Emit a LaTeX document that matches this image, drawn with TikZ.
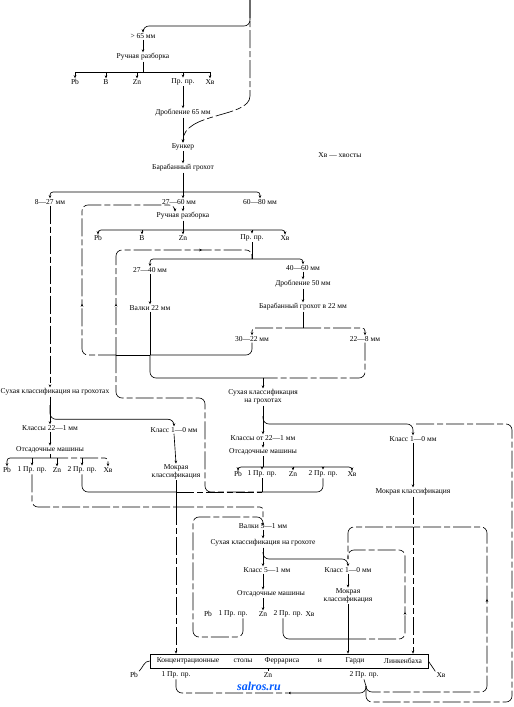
\documentclass[tikz,border=0pt]{standalone}
\usepackage{fontspec}
\setmainfont{Liberation Serif}
\usetikzlibrary{arrows.meta,decorations.markings}

\begin{document}
\begin{tikzpicture}[
    x=1pt, y=-1pt,
    every node/.style={align=center, font=\fontsize{7.5}{8}\selectfont, inner sep=1pt},
    % linee di flusso
    ln/.style={line width=0.65pt},
    flow/.style={ln, -{Stealth[length=3pt,width=2.6pt]}},
    % linea tratteggiata lunga (come nella scansione)
    brk/.style={dash pattern=on 18pt off 3pt on 6pt off 3pt},
    rc/.style={rounded corners=6pt},
    rcs/.style={rounded corners=3pt},
    % freccia a meta linea
    midarr/.style={postaction={decorate, decoration={markings,
        mark=at position #1 with {\arrow{Stealth[length=3pt,width=2.6pt]}}}}},
    % tavolo di concentrazione
    tbl/.style={draw, line width=0.65pt, minimum width=278pt, minimum height=14pt},
    wm/.style={font=\bfseries\itshape\fontsize{12}{12}\selectfont, text=blue!65!cyan}
]
\useasboundingbox (0,0) rectangle (514,707);

% --- PRIMA CERNITA ---
\coordinate (top) at (250,0);
\node (n65) at (143,36) {> 65 мм};
\node (rr1) at (143,57) {Ручная разборка};
\node (a1Pb) at (75,82) {Pb};
\node (a1B) at (106,82) {В};
\node (a1Zn) at (137,82) {Zn};
\node (a1Pp) at (183,82) {Пр. пр.};
\node (a1Hv) at (210,82) {Хв};
\node (dr65) at (183,113) {Дробление 65 мм};
\node (bunk) at (183,147) {Бункер};
\node (bg1) at (183,168) {Барабанный грохот};
\node (legend) at (340,155) {Хв — хвосты};

\draw[flow, rc] (top) -- (250,26) -- (143,26) -- (n65.north);
\draw[flow, brk] (top) -- (250,96) .. controls (250,118) and (183,112) .. (bunk.north);
\draw[flow] (n65.south) -- (rr1.north);
\coordinate (bus1) at (143,72);
\draw[ln] (rr1.south) -- (bus1);
\draw[ln] (a1Pb.north |- bus1) -- (a1Hv.north |- bus1);
\foreach \n in {a1Pb,a1B,a1Zn,a1Pp,a1Hv}
    \draw[flow] (\n.north |- bus1) -- (\n.north);
\draw[flow] (a1Pp.south) -- (dr65.north);
\draw[flow] (dr65.south) -- (bunk.north);
\draw[flow] (bunk.south) -- (bg1.north);

% --- SECONDA CERNITA ---
\node (s827) at (50,202) {8—27 мм};
\node (s2760) at (179,202) {27—60 мм};
\node (s6080) at (260,202) {60—80 мм};
\node (rr2) at (183,216) {Ручная разборка};
\node (b2Pb) at (98,238) {Pb};
\node (b2B) at (142,238) {В};
\node (b2Zn) at (183,238) {Zn};
\node (b2Pp) at (252,238) {Пр. пр.};
\node (b2Hv) at (285,238) {Хв};

\coordinate (bus2) at (183,192);
\draw[ln] (bg1.south) -- (bus2);
\draw[flow, rcs] (bus2) -| (s827.north);
\draw[flow, rcs] (bus2) -| (s6080.north);
\draw[flow] (bus2) -- (bus2 |- s2760.north);
\draw[flow] (bus2 |- s2760.south) -- (rr2.north);
\coordinate (bus3) at (183,230);
\draw[ln] (rr2.south) -- (bus3);
\draw[flow, rcs] (bus3) -| (b2Pb.north);
\draw[flow, rcs] (bus3) -| (b2Hv.north);
\foreach \n in {b2B,b2Zn,b2Pp}
    \draw[flow] (\n.north |- bus3) -- (\n.north);

% --- FRANTUMAZIONE E VAGLIATURA ---
\node (s2740) at (150,270) {27—40 мм};
\node (s4060) at (303,268) {40—60 мм};
\node (dr50) at (303,284) {Дробление 50 мм};
\node (bg2) at (303,307) {Барабанный грохот в 22 мм};
\node (valki1) at (150,308) {Валки 22 мм};
\node (s3022) at (252,339) {30—22 мм};
\node (s228) at (365,339) {22—8 мм};

\coordinate (jA) at (116,355);
\coordinate (jB) at (150,355);
\coordinate (bus4) at (252,259);
\coordinate (bus5) at (303,328);
\coordinate (bus8) at (263,378);

\draw[ln] (b2Pp.south) -- (bus4);
\draw[flow, rcs] (bus4) -| (s2740.north);
\draw[flow, rcs] (bus4) -| (s4060.north);
\draw[flow] (s2740.south) -- (valki1.north);
\draw[ln] (valki1.south) -- (jB);
\draw[flow] (s4060.south) -- (dr50.north);
\draw[flow] (dr50.south) -- (bg2.north);
\draw[ln, brk] (bg2.south) -- (bus5);
\draw[flow, brk, rcs] (bus5) -| (s3022.north);
\draw[flow, brk, rcs] (bus5) -| (s228.north);
\draw[ln, rc] (s3022.south) |- (jB);
\draw[ln] (jB) -- (jA);
% ritorni alla cernita
\draw[flow, brk, rc, midarr=0.3] (jA) -- (82,355) -- (82,205) -- (175,205) -- ([xshift=-8pt]rr2.north);
\draw[ln, brk, rc, midarr=0.21, midarr=0.77] (jA) -- (116,250) -- (252,250) -- (bus4);
\draw[ln, rc] (jB) |- (bus8);
\draw[ln, brk, rc] (s228.south) |- (bus8);

% --- CLASSIFICAZIONE E CRIVELLI ---
\node (sk1) at (55,392) {Сухая классификация на грохотах};
\node (sk2) at (263,397) {Сухая классификация\\на грохотах};
\node (k1a) at (50,428) {Классы 22—1 мм};
\node (k1b) at (174,430) {Класс 1—0 мм};
\node (om1) at (50,450) {Отсадочные машины};
\node (c1Pb) at (7,470) {Pb};
\node (c1P1) at (32,470) {1 Пр. пр.};
\node (c1Zn) at (57,470) {Zn};
\node (c1P2) at (82,470) {2 Пр. пр.};
\node (c1Hv) at (108,470) {Хв};
\node (mk1) at (176,472) {Мокрая\\классификация};
\node (k2a) at (263,438) {Классы от 22—1 мм};
\node (om2) at (263,452) {Отсадочные машины};
\node (c2Pb) at (238,474) {Pb};
\node (c2P1) at (262,474) {1 Пр. пр.};
\node (c2Zn) at (293,474) {Zn};
\node (c2P2) at (323,474) {2 Пр. пр.};
\node (c2Hv) at (352,474) {Хв};
\node (kk1) at (413,439) {Класс 1—0 мм};
\node (mk2) at (413,492) {Мокрая классификация};

\coordinate (br1) at (50,405);
\coordinate (br2) at (263,416);
\coordinate (kkin) at (413,424);
\coordinate (bus6) at (50,458);
\coordinate (bus7) at (263,467);
\coordinate (jC1) at (176,492);
\coordinate (jC2) at (176,507);
\coordinate (jD) at (262,492);
\coordinate (jE) at (413,527);

\draw[flow] (bus8) -- (sk2.north);
\draw[flow, brk] (s827.south) -- (s827.south |- sk1.north);
\draw[flow] (k1a.north |- sk1.south) -- (k1a.north);
\draw[flow, rc] (br1) |- ([yshift=7pt]k1b.north) -- (k1b.north);
\draw[flow] (k1a.south) -- (om1.north);
\draw[ln] (om1.south) -- (bus6);
\draw[flow, rcs] (bus6) -| (c1Pb.north);
\draw[flow, brk, rcs] (bus6) -| (c1Hv.north);
\foreach \n in {c1P1,c1Zn,c1P2}
    \draw[flow] (\n.north |- bus6) -- (\n.north);
\draw[flow] (k1b.south) -- (mk1.north);
\draw[ln] (mk1.south) -- (jC1);
\draw[ln, rc] (c1P2.south) |- (jC1);
\draw[ln, brk, rc] (c1P1.south) |- (jC2);
\draw[ln] (jC1) -- (jC2);
\draw[ln, brk] (jC1) -- (jD);
\draw[ln, brk, rc] (jA) |- (205,398) |- (jD);

\draw[flow] (sk2.south) -- (k2a.north);
\draw[flow, rc] (br2) |- (kkin) -- (kk1.north);
\draw[flow] (k2a.south) -- (om2.north);
\draw[ln] (om2.south) -- (bus7);
\draw[flow, rcs] (bus7) -| (c2Pb.north);
\draw[flow, rcs] (bus7) -| (c2Hv.north);
\foreach \n in {c2P1,c2Zn,c2P2}
    \draw[flow] (\n.north |- bus7) -- (\n.north);
\draw[ln] (c2P1.south) -- (jD);
\draw[ln, rc] (c2P2.south) |- (jD);
\draw[flow] (kk1.south) -- (mk2.north);
\draw[ln, brk] (mk2.south) -- (jE);

% --- TERZO CICLO ---
\node (valki2) at (263,526) {Валки 5—1 мм};
\node (sk3) at (263,543) {Сухая классификация на грохоте};
\node (k3a) at (267,570) {Класс 5—1 мм};
\node (k3b) at (348,570) {Класс 1—0 мм};
\node (om3) at (271,594) {Отсадочные машины};
\node (mk3) at (348,596) {Мокрая\\классификация};
\node (d3Pb) at (208,614) {Pb};
\node (d3P1) at (233,614) {1 Пр. пр.};
\node (d3Zn) at (263,614) {Zn};
\node (d3P2) at (288,614) {2 Пр. пр.};
\node (d3Hv) at (310,614) {Хв};

\coordinate (vin) at (263,517);
\coordinate (br3) at (263,552);
\coordinate (k3in) at (348,559);
\coordinate (jF) at (348,639);

\draw[ln, brk, rcs] (jC2) -| (vin);
\draw[flow, brk, rc] ([xshift=10pt]d3P1.south) |- (193,637) |- (vin) -- (valki2.north);
\draw[flow] (valki2.south) -- (sk3.north);
\draw[flow, rc] (br3) |- (k3in) -- (k3b.north);
\draw[flow, brk] (sk3.south) -- (sk3.south |- k3a.north);
\draw[flow, brk] (sk3.south |- k3a.south) -- (sk3.south |- om3.north);
\draw[flow] (sk3.south |- om3.south) -- (d3Zn.north);
\draw[flow] (k3b.south) -- (mk3.north);
\draw[ln] (mk3.south) -- (jF);
\draw[ln, rc] ([xshift=-5pt]d3P2.south) |- (jF);
\draw[ln, brk, rc, midarr=0.4] (jF) -| (405,550) -| (k3in);
\draw[ln, brk, rc] (jE) -| (k3in);

% --- TAVOLI DI CONCENTRAZIONE ---
\node[tbl] (box) at (289,661) {};
\node (w1) at (188,661) {Концентрационные};
\node (w2) at (243,661) {столы};
\node (w3) at (282,661) {Феррариса};
\node (w4) at (320,661) {и};
\node (w5) at (355,661) {Гарди};
\node (w6) at (403,661) {Линкенбаха};
\node (ePb) at (134,675) {Pb};
\node (eP1) at (176,675) {1 Пр. пр.};
\node (eZn) at (268,675) {Zn};
\node (eP2) at (364,675) {2 Пр. пр.};
\node (eHv) at (441,675) {Хв};

\coordinate (pP2) at (366,686);
\coordinate (wmL) at (288,693);

\draw[flow, brk] (jC2) -- (jC2 |- box.north);
\draw[flow] (jF) -- (jF |- box.north);
\draw[flow, brk] (jE) -- (jE |- box.north);
\draw[ln] (box.west) to[out=180,in=45] (ePb.north east);
\draw[ln] (box.east) -- (eHv.north west);
\draw[ln] (box.south -| eZn.north) -- (eZn.north);
\draw[ln, brk, rc] (eP1.south) |- (wmL);
\draw[ln] (eP2.south) -- (pP2);
\draw[flow, rc] (pP2) |- (wmL);
\draw[ln, brk, rc, midarr=0.6] (pP2) |- (487,692) -- (487,527) -- (jE);
\draw[ln, brk, rc] (pP2) |- (512,702) -- (512,424) -- (kkin);

\node[wm] (wmk) at (259,686) {salros.ru};

\end{tikzpicture}
\end{document}
